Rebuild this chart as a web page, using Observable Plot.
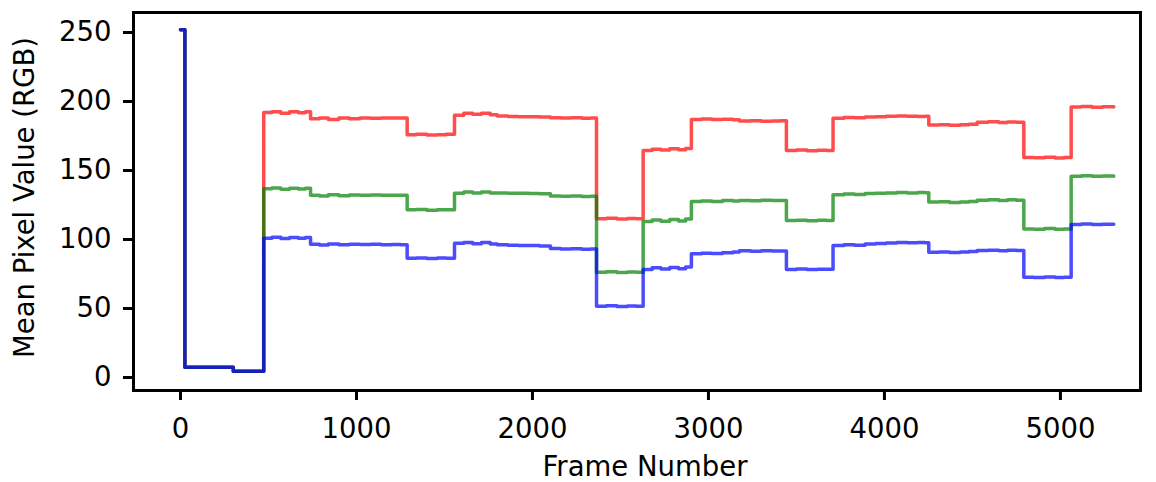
<!DOCTYPE html>
<html>
<head>
<meta charset="utf-8">
<script src="https://cdn.jsdelivr.net/npm/d3@7"></script>
<script src="https://cdn.jsdelivr.net/npm/@observablehq/plot@0.6"></script>
<style>
  html, body { margin: 0; padding: 0; background: #fff; }
  #chart svg { display: block; }
</style>
</head>
<body>
<div id="chart"></div>
<script>
// Frame numbers at which each sampled value begins (step-after)
const frames = [
  0, 25, 300,
  473, 520, 570, 620, 670, 710,
  739, 790, 840, 900, 960, 1020, 1080, 1140, 1200, 1250,
  1288, 1340, 1400, 1460, 1510,
  1557, 1610, 1660, 1710, 1760, 1800, 1860, 1920, 1980, 2040, 2102, 2160, 2220, 2280, 2330,
  2364, 2420, 2480, 2540, 2590,
  2629, 2680, 2730, 2780, 2830, 2870,
  2903, 2960, 3020, 3080, 3140, 3176, 3240, 3300, 3360, 3410,
  3443, 3500, 3560, 3620, 3670,
  3708, 3770, 3830, 3890, 3950, 4010, 4070, 4130, 4190, 4230,
  4252, 4310, 4370, 4430, 4480, 4527, 4590, 4650, 4700, 4750,
  4792, 4850, 4910, 4970, 5020,
  5061, 5120, 5180, 5240, 5303
];

const redValues = [
  252, 7.5, 4.5,
  192, 192.5, 191.5, 192.5, 191.8, 192.5,
  187.5, 188, 187, 188, 187.5, 188, 187.8, 188, 188, 188,
  176, 176.3, 175.8, 176, 176.2,
  190, 191.5, 190.8, 191.5, 190.5, 189.5, 189.2, 189, 189, 188.8, 188.2, 188, 188.2, 187.8, 188,
  115, 115.5, 114.8, 115.3, 115,
  164.5, 165.5, 164.8, 165.8, 165, 166,
  187, 187.3, 187, 187.2, 186.8, 185.8, 186, 185.7, 185.9, 186,
  164.5, 164.8, 164.4, 164.7, 164.5,
  187.8, 188.5, 188.2, 188.8, 189, 189.3, 189.5, 189.4, 189.2, 189.3,
  183, 183.2, 182.8, 183.1, 183.5, 185, 185.3, 184.8, 185.2, 185,
  159.4, 159.2, 159.6, 159.1, 159.5,
  196, 196.3, 195.9, 196.2, 196
];

const greenValues = [
  252, 7.5, 4.5,
  136.7, 137.3, 136.5, 137.2, 136.6, 137.2,
  132, 131.5, 132.4, 131.8, 132.2, 132, 132.3, 132.1, 132, 132.1,
  121.5, 121.7, 121.3, 121.6, 121.5,
  133.5, 134.5, 133.8, 134.5, 133.8, 133.7, 133.5, 133.6, 133.4, 133.2, 131.5, 131.3, 131.6, 131.2, 131.4,
  76.3, 76.6, 76.1, 76.5, 76.3,
  113, 114.2, 113.3, 114.5, 113.5, 114.8,
  127.5, 128, 127.6, 128.2, 127.9, 128.3, 128.1, 128.4, 128.2, 128.3,
  113.8, 114, 113.6, 113.9, 113.8,
  132.4, 133, 132.6, 133.3, 133.5, 133.8, 134, 133.8, 134, 133.9,
  127.1, 127.3, 126.9, 127.2, 127.5, 128.5, 128.8, 128.3, 128.8, 128.5,
  107.7, 107.5, 107.9, 107.4, 107.7,
  145.9, 146.2, 145.8, 146.1, 145.9
];

const blueValues = [
  252, 7.5, 4.5,
  101, 101.6, 100.8, 101.5, 100.9, 101.5,
  96.5, 96, 96.8, 96.3, 96.6, 96.4, 96.5, 96.3, 96.4, 96.2,
  86.5, 86.7, 86.3, 86.6, 86.5,
  97.3, 97.8, 97, 97.8, 96.8, 96.2, 95.9, 95.7, 95.6, 95.3, 93.5, 93.1, 93.3, 92.9, 93.1,
  51.7, 52, 51.5, 51.9, 51.6,
  78.3, 79.5, 78.6, 79.8, 78.8, 80,
  89.6, 90, 89.8, 90.5, 91, 91.8, 91.5, 91.8, 91.6, 91.7,
  78.3, 78.6, 78.2, 78.5, 78.4,
  95.7, 96.3, 95.9, 96.8, 97.2, 97.5, 97.8, 97.6, 97.9, 97.7,
  90.8, 91, 90.6, 90.9, 91.3, 92, 92.3, 91.8, 92.3, 92,
  72.7, 72.5, 72.9, 72.4, 72.7,
  110.9, 111.2, 110.8, 111.1, 111
];

const xTicks = [0, 1000, 2000, 3000, 4000, 5000];
const yTicks = [0, 50, 100, 150, 200, 250];
const xLabel = "Frame Number";
const yLabel = "Mean Pixel Value (RGB)";

const channels = [
  {name: "R", values: redValues, color: "#ff0000"},
  {name: "G", values: greenValues, color: "#008000"},
  {name: "B", values: blueValues, color: "#0000ff"}
];

const rows = channels.flatMap(c =>
  frames.map((f, i) => ({frame: f, value: c.values[i], channel: c.name}))
);

const font = "DejaVu Sans, sans-serif";
const fs = 27.5;

const chart = Plot.plot({
  width: 1156,
  height: 482,
  marginLeft: 133,
  marginRight: 16,
  marginTop: 12,
  marginBottom: 92,
  style: {fontFamily: font, fontSize: fs + "px", color: "#000", background: "#fff"},
  x: {domain: [-267, 5455]},
  y: {domain: [-9.4, 264.5]},
  marks: [
    ...channels.map(c =>
      Plot.line(rows.filter(d => d.channel === c.name), {
        x: "frame", y: "value", stroke: c.color, strokeWidth: 3.5,
        strokeOpacity: 0.7, curve: "step-after"
      })
    ),
    Plot.frame({stroke: "#000", strokeWidth: 3}),
    Plot.axisX(xTicks, {
      tickSize: 10, tickPadding: 18, strokeWidth: 3, fontSize: fs,
      tickFormat: d3.format("d"), label: null
    }),
    Plot.axisY(yTicks, {
      tickSize: 10, tickPadding: 12, strokeWidth: 3, fontSize: fs,
      tickFormat: d3.format("d"), label: null
    }),
    Plot.text([xLabel], {
      text: d => d, frameAnchor: "bottom", lineAnchor: "middle",
      dx: 8, dy: 77, fontSize: fs, fill: "#000"
    }),
    Plot.text([yLabel], {
      text: d => d, frameAnchor: "left", textAnchor: "middle", lineAnchor: "middle",
      rotate: -90, dx: -108, dy: -4, fontSize: fs, fill: "#000"
    })
  ]
});

document.getElementById("chart").appendChild(chart);
</script>
</body>
</html>
